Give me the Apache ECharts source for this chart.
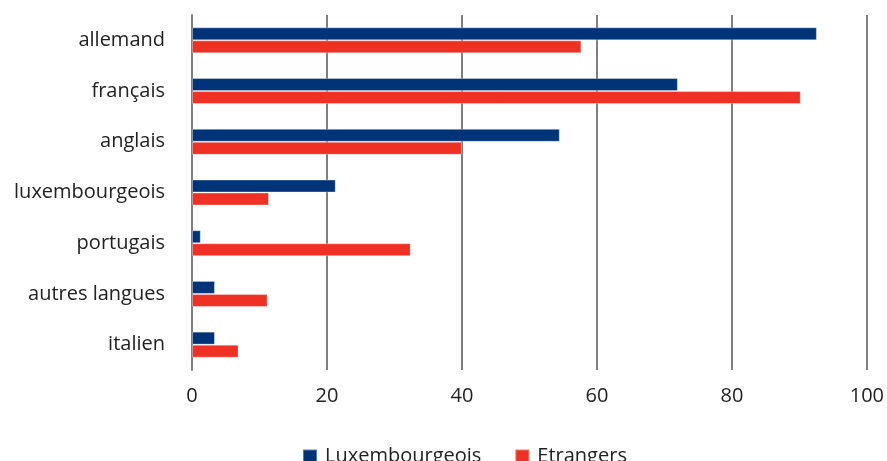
<!DOCTYPE html>
<html>
<head>
<meta charset="utf-8">
<script src="https://cdn.jsdelivr.net/npm/echarts@6/dist/echarts.min.js"></script>
<style>
  html, body { margin: 0; padding: 0; background: #fff; }
  #chart { width: 887px; height: 461px; }
</style>
</head>
<body>
<div id="chart"></div>
<script>
// Languages, listed top to bottom
const categories = ['allemand', 'français', 'anglais', 'luxembourgeois', 'portugais', 'autres langues', 'italien'];
// Share of each group (%)
const luxembourgeois = [92.6, 72.0, 54.5, 21.3, 1.3, 3.4, 3.4];
const etrangers = [57.7, 90.2, 40.0, 11.4, 32.4, 11.2, 6.9];
const seriesNames = ['Luxembourgeois', 'Etrangers'];
const xTicks = [0, 20, 40, 60, 80, 100];

const FONT = '"Open Sans", "Noto Sans", sans-serif';
const chart = echarts.init(document.getElementById('chart'));

chart.setOption({
  animation: false,
  textStyle: { fontFamily: FONT },
  grid: { left: 192, right: 19, top: 15, bottom: 91, containLabel: false },
  legend: {
    top: 446,
    left: 302,
    padding: 0,
    itemWidth: 14,
    itemHeight: 13,
    itemGap: 33,
    icon: 'rect',
    textStyle: { fontSize: 20, color: '#222', fontFamily: FONT, padding: [0, 0, 0, 3] },
    data: seriesNames
  },
  xAxis: {
    type: 'value',
    min: xTicks[0],
    max: xTicks[xTicks.length - 1],
    interval: 20,
    axisLine: { show: false },
    axisTick: { show: false },
    axisLabel: { fontSize: 20, color: '#222', margin: 16, fontFamily: FONT },
    splitLine: { show: true, lineStyle: { color: '#7f7f7f', width: 2 } }
  },
  yAxis: {
    type: 'category',
    inverse: true,
    data: categories,
    axisLine: { show: true, lineStyle: { color: '#7f7f7f', width: 2 } },
    axisTick: { show: false },
    axisLabel: { fontSize: 20, color: '#222', margin: 27, fontFamily: FONT }
  },
  series: [
    {
      name: seriesNames[0],
      type: 'bar',
      data: luxembourgeois,
      barWidth: 13,
      barGap: '0%',
      itemStyle: { color: '#003478', borderColor: 'rgba(255,255,255,0.35)', borderWidth: 1 }
    },
    {
      name: seriesNames[1],
      type: 'bar',
      data: etrangers,
      barWidth: 13,
      barGap: '0%',
      itemStyle: { color: '#EE3124', borderColor: 'rgba(255,255,255,0.35)', borderWidth: 1 }
    }
  ]
});
</script>
</body>
</html>
